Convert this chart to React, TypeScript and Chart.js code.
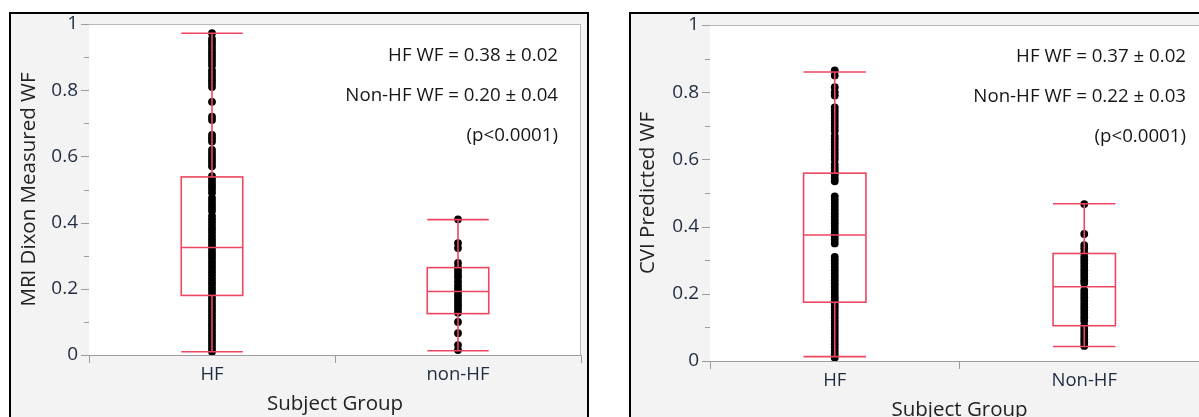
import React, { useEffect, useRef } from 'react';
import { Chart, registerables } from 'chart.js';

Chart.register(...registerables);

const FONT = "'Open Sans', 'Noto Sans', 'DejaVu Sans', sans-serif";

// ---- categories / ticks ----
const leftCategories = ['HF', 'non-HF'];
const rightCategories = ['HF', 'Non-HF'];
const yTickValues = [0, 0.1, 0.2, 0.3, 0.4, 0.5, 0.6, 0.7, 0.8, 0.9, 1];
const yLabelValues = [0, 0.2, 0.4, 0.6, 0.8, 1];

// ---- left panel: MRI Dixon measured WF ----
const mriHF = [
  0.972, 0.955, 0.945, 0.935, 0.925, 0.915, 0.905, 0.895, 0.885, 0.875, 0.86, 0.85, 0.84, 0.83,
  0.82, 0.81, 0.765, 0.72, 0.71, 0.665, 0.655, 0.645, 0.62, 0.61, 0.6, 0.59, 0.58, 0.57, 0.54,
  0.53, 0.52, 0.51, 0.5, 0.49, 0.475, 0.465, 0.455, 0.445, 0.435, 0.42, 0.41, 0.4, 0.39, 0.38,
  0.37, 0.36, 0.35, 0.34, 0.33, 0.32, 0.31, 0.3, 0.29, 0.28, 0.27, 0.26, 0.25, 0.24, 0.23, 0.22,
  0.21, 0.2, 0.19, 0.18, 0.17, 0.16, 0.15, 0.14, 0.13, 0.12, 0.11, 0.1, 0.09, 0.08, 0.07, 0.06,
  0.05, 0.04, 0.03, 0.02, 0.01,
];
const mriNonHF = [
  0.41, 0.338, 0.323, 0.278, 0.265, 0.255, 0.245, 0.235, 0.222, 0.21, 0.2, 0.19, 0.18, 0.17,
  0.16, 0.15, 0.14, 0.128, 0.1, 0.066, 0.03, 0.015,
];
// [min, q1, median, q3, max]
const mriBoxHF = [0.01, 0.18, 0.325, 0.538, 0.972];
const mriBoxNonHF = [0.013, 0.125, 0.192, 0.264, 0.409];
const leftNotes = ['HF WF = 0.38 ± 0.02', 'Non-HF WF = 0.20 ± 0.04', '(p<0.0001)'];

// ---- right panel: CVI predicted WF ----
const cviHF = [
  0.865, 0.85, 0.815, 0.8, 0.79, 0.755, 0.745, 0.735, 0.725, 0.715, 0.705, 0.695, 0.685, 0.67,
  0.66, 0.65, 0.64, 0.63, 0.62, 0.61, 0.6, 0.585, 0.575, 0.565, 0.555, 0.545, 0.535, 0.49, 0.48,
  0.47, 0.46, 0.45, 0.44, 0.43, 0.42, 0.41, 0.4, 0.39, 0.38, 0.37, 0.36, 0.35, 0.31, 0.3, 0.29,
  0.28, 0.27, 0.26, 0.25, 0.24, 0.23, 0.22, 0.21, 0.2, 0.19, 0.18, 0.17, 0.16, 0.15, 0.14, 0.13,
  0.12, 0.11, 0.1, 0.09, 0.08, 0.07, 0.06, 0.05, 0.04, 0.03, 0.02, 0.01,
];
const cviNonHF = [
  0.467, 0.378, 0.345, 0.335, 0.322, 0.31, 0.3, 0.29, 0.28, 0.27, 0.26, 0.25, 0.24, 0.232, 0.21,
  0.2, 0.19, 0.18, 0.17, 0.16, 0.15, 0.14, 0.13, 0.12, 0.105, 0.095, 0.085, 0.075, 0.065, 0.055,
  0.045,
];
const cviBoxHF = [0.013, 0.175, 0.375, 0.559, 0.86];
const cviBoxNonHF = [0.043, 0.105, 0.221, 0.32, 0.468];
const rightNotes = ['HF WF = 0.37 ± 0.02', 'Non-HF WF = 0.22 ± 0.03', '(p<0.0001)'];

const xTitle = 'Subject Group';
const leftYTitle = 'MRI Dixon Measured WF';
const rightYTitle = 'CVI Predicted WF';

type Layout = {
  width: number;
  height: number;
  yWidth: number;
  xHeight: number;
  padTop: number;
  padRight: number;
  yTitlePad: number;
  xTitlePad: number;
};

type Props = {
  categories: string[];
  groups: number[][];
  boxes: number[][];
  notes: string[];
  yTitle: string;
  layout: Layout;
};

const RED = '#ee4660';
const AXIS = '#9c9c9c';
const TICK_TEXT = '#1f2b40';

function BoxChart({ categories, groups, boxes, notes, yTitle, layout }: Props) {
  const ref = useRef<HTMLCanvasElement | null>(null);

  useEffect(() => {
    const canvas = ref.current;
    if (!canvas) return;

    const points = groups.flatMap((vals, i) => vals.map((v) => ({ x: categories[i], y: v })));

    const overlay = {
      id: 'overlay',
      beforeDatasetsDraw(chart: any) {
        const { ctx, chartArea: a, scales } = chart;
        const y = scales.y;
        ctx.save();
        ctx.fillStyle = '#ffffff';
        ctx.fillRect(a.left, a.top, a.right - a.left, a.bottom - a.top);
        // frame (top & right)
        ctx.strokeStyle = '#b9b9b9';
        ctx.lineWidth = 1;
        ctx.beginPath();
        ctx.moveTo(a.left, Math.round(a.top) + 0.5);
        ctx.lineTo(a.right, Math.round(a.top) + 0.5);
        ctx.moveTo(Math.round(a.right) - 0.5, a.top);
        ctx.lineTo(Math.round(a.right) - 0.5, a.bottom);
        ctx.stroke();
        // y tick marks (major and minor)
        ctx.strokeStyle = AXIS;
        ctx.beginPath();
        yTickValues.forEach((v, i) => {
          const py = Math.round(y.getPixelForValue(v)) + 0.5;
          const len = i % 2 === 0 ? 8 : 5;
          ctx.moveTo(a.left - len, py);
          ctx.lineTo(a.left, py);
        });
        ctx.stroke();
        // annotation text
        ctx.fillStyle = '#161616';
        ctx.font = `18.7px ${FONT}`;
        ctx.textAlign = 'right';
        ctx.textBaseline = 'middle';
        notes.forEach((t, i) => {
          ctx.fillText(t, a.right - 23, a.top + 32 + i * 40);
        });
        ctx.restore();
      },
      afterDatasetsDraw(chart: any) {
        const { ctx, scales } = chart;
        const x = scales.x;
        const y = scales.y;
        const half = (x.width / categories.length) * 0.125;
        ctx.save();
        ctx.strokeStyle = RED;
        ctx.lineWidth = 1.6;
        boxes.forEach((b, i) => {
          const cx = x.getPixelForValue(i);
          const [mn, q1, md, q3, mx] = b.map((v) => y.getPixelForValue(v));
          ctx.beginPath();
          // whiskers
          ctx.moveTo(cx, q3);
          ctx.lineTo(cx, mx);
          ctx.moveTo(cx, q1);
          ctx.lineTo(cx, mn);
          // caps
          ctx.moveTo(cx - half, mx);
          ctx.lineTo(cx + half, mx);
          ctx.moveTo(cx - half, mn);
          ctx.lineTo(cx + half, mn);
          // median
          ctx.moveTo(cx - half, md);
          ctx.lineTo(cx + half, md);
          ctx.stroke();
          ctx.strokeRect(cx - half, q3, half * 2, q1 - q3);
        });
        ctx.restore();
      },
    };

    const chart = new Chart(canvas, {
      type: 'scatter',
      data: {
        labels: categories,
        datasets: [
          {
            data: points as any,
            pointRadius: 3.9,
            pointHoverRadius: 3.9,
            pointBackgroundColor: '#000000',
            pointBorderWidth: 0,
            showLine: false,
          },
        ],
      },
      options: {
        animation: false,
        responsive: false,
        events: [],
        layout: { padding: { top: layout.padTop, right: layout.padRight, left: 0, bottom: 0 } },
        plugins: { legend: { display: false }, tooltip: { enabled: false } },
        scales: {
          x: {
            type: 'category',
            labels: categories,
            offset: true,
            grid: {
              offset: true,
              display: true,
              drawOnChartArea: false,
              drawTicks: true,
              tickLength: 8,
              color: AXIS,
              lineWidth: 1,
            },
            border: { display: true, color: AXIS, width: 1 },
            ticks: {
              color: TICK_TEXT,
              font: { family: FONT, size: 18.5, lineHeight: 1 },
              padding: 2,
              maxRotation: 0,
              autoSkip: false,
            },
            title: {
              display: true,
              text: xTitle,
              color: '#222222',
              font: { family: FONT, size: 20.5, lineHeight: 1 },
              padding: { top: 0, bottom: layout.xTitlePad },
            },
            afterFit: (s: any) => {
              s.height = layout.xHeight;
              s.paddingLeft = 0;
              s.paddingRight = 0;
            },
          },
          y: {
            type: 'linear',
            min: 0,
            max: 1,
            afterBuildTicks: (s: any) => {
              s.ticks = yLabelValues.map((v) => ({ value: v }));
            },
            grid: { display: true, drawOnChartArea: false, drawTicks: false },
            border: { display: true, color: AXIS, width: 1 },
            ticks: {
              color: TICK_TEXT,
              font: { family: FONT, size: 19, lineHeight: 1 },
              padding: 11,
              callback: (v: any) => String(v),
            },
            title: {
              display: true,
              text: yTitle,
              color: '#222222',
              font: { family: FONT, size: 20.5, lineHeight: 1 },
              padding: { top: layout.yTitlePad, bottom: 0 },
            },
            afterFit: (s: any) => {
              s.width = layout.yWidth;
              s.paddingTop = 0;
              s.paddingBottom = 0;
            },
          },
        },
      },
      plugins: [overlay],
    });

    return () => chart.destroy();
  }, [categories, groups, boxes, notes, yTitle, layout]);

  return (
    <canvas
      ref={ref}
      width={layout.width}
      height={layout.height}
      style={{ display: 'block', width: layout.width, height: layout.height }}
    />
  );
}

const leftLayout: Layout = {
  width: 576,
  height: 403,
  yWidth: 78,
  xHeight: 62,
  padTop: 10,
  padRight: 6,
  yTitlePad: 7.5,
  xTitlePad: 2.5,
};

const rightLayout: Layout = {
  width: 590,
  height: 403,
  yWidth: 79,
  xHeight: 56,
  padTop: 11,
  padRight: 12,
  yTitlePad: 6.5,
  xTitlePad: -3,
};

const leftGroups = [mriHF, mriNonHF];
const leftBoxes = [mriBoxHF, mriBoxNonHF];
const rightGroups = [cviHF, cviNonHF];
const rightBoxes = [cviBoxHF, cviBoxNonHF];

export default function App() {
  return (
    <div
      style={{
        position: 'absolute',
        left: 0,
        top: 0,
        width: 1199,
        height: 417,
        overflow: 'hidden',
        background: '#ffffff',
      }}
    >
      <div
        style={{
          position: 'absolute',
          left: 9,
          top: 12,
          width: 576,
          height: 420,
          border: '2px solid #000',
          background: '#f3f3f3',
          overflow: 'hidden',
        }}
      >
        <BoxChart
          categories={leftCategories}
          groups={leftGroups}
          boxes={leftBoxes}
          notes={leftNotes}
          yTitle={leftYTitle}
          layout={leftLayout}
        />
      </div>
      <div
        style={{
          position: 'absolute',
          left: 629,
          top: 12,
          width: 600,
          height: 420,
          borderLeft: '2px solid #000',
          borderTop: '2px solid #000',
          background: '#f3f3f3',
          overflow: 'hidden',
        }}
      >
        <BoxChart
          categories={rightCategories}
          groups={rightGroups}
          boxes={rightBoxes}
          notes={rightNotes}
          yTitle={rightYTitle}
          layout={rightLayout}
        />
      </div>
    </div>
  );
}
